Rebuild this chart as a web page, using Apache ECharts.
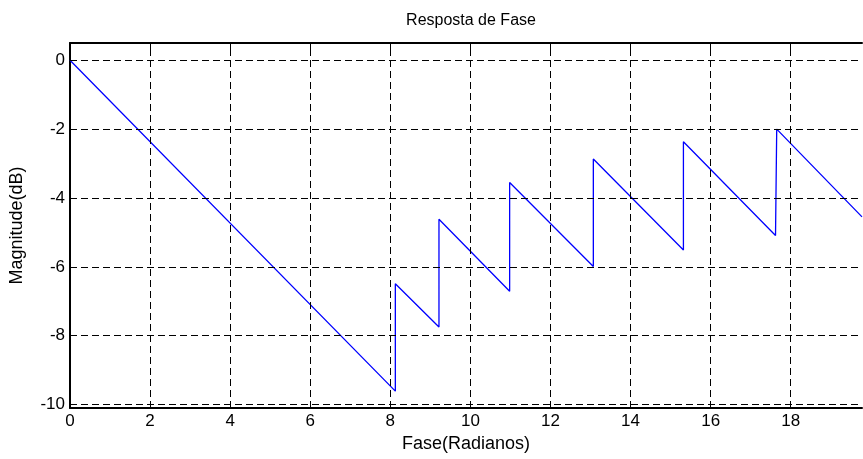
<!DOCTYPE html>
<html>
<head>
<meta charset="utf-8">
<script src="https://cdn.jsdelivr.net/npm/echarts@6/dist/echarts.min.js"></script>
<style>html,body{margin:0;padding:0;background:#fff}#c{width:863px;height:459px}</style>
</head>
<body>
<div id="c"></div>
<script>
var phaseX = [0, 8.125, 8.125, 9.215, 9.215, 10.98, 10.98, 13.07, 13.07, 15.32, 15.32, 17.62, 17.65, 19.78];
var phaseY = [0, -9.61, -6.49, -7.75, -4.62, -6.71, -3.55, -5.99, -2.87, -5.51, -2.37, -5.09, -2.0, -4.55];
var xTicks = [0, 2, 4, 6, 8, 10, 12, 14, 16, 18];
var yTicks = [0, -2, -4, -6, -8, -10];
var titleText = 'Resposta de Fase';
var xName = 'Fase(Radianos)';
var yName = 'Magnitude(dB)';

var FONT = '"Liberation Sans", Arial, sans-serif';
var data = phaseX.map(function (x, i) { return [x, phaseY[i]]; });
var gridLines = [];
xTicks.forEach(function (v) { if (v !== 0) gridLines.push({ xAxis: v }); });
yTicks.forEach(function (v) { gridLines.push({ yAxis: v }); });

var chart = echarts.init(document.getElementById('c'), null, { renderer: 'canvas' });
var axisLine = { show: true, onZero: false, lineStyle: { color: '#000', width: 2 } };
chart.setOption({
  animation: false,
  backgroundColor: '#fff',
  title: {
    text: titleText, left: 466, top: 8, textAlign: 'center',
    textStyle: { fontFamily: FONT, fontSize: 16, fontWeight: 'normal', color: '#000' }
  },
  grid: { left: 70, right: 1, top: 43, bottom: 51 },
  xAxis: [{
    type: 'value', min: 0, max: 19.78, position: 'bottom',
    axisLine: axisLine,
    axisTick: { show: true, inside: true, length: 6, customValues: xTicks, lineStyle: { color: '#000' } },
    axisLabel: { customValues: xTicks, fontFamily: FONT, fontSize: 17, color: '#000', margin: 5 },
    splitLine: { show: false },
    name: xName, nameLocation: 'middle', nameGap: 24,
    nameTextStyle: { fontFamily: FONT, fontSize: 18, color: '#000', verticalAlign: 'top' }
  }, {
    type: 'value', min: 0, max: 19.78, position: 'top',
    axisLine: axisLine,
    axisTick: { show: true, inside: true, length: 6, customValues: xTicks, lineStyle: { color: '#000' } },
    axisLabel: { show: false },
    splitLine: { show: false }
  }],
  yAxis: {
    type: 'value', min: -10.1, max: 0.5,
    axisLine: axisLine,
    axisTick: { show: true, inside: true, length: 6, customValues: yTicks, lineStyle: { color: '#000' } },
    axisLabel: { customValues: yTicks, fontFamily: FONT, fontSize: 17, color: '#000', margin: 5 },
    splitLine: { show: false },
    name: yName, nameLocation: 'middle', nameGap: 44,
    nameTextStyle: { fontFamily: FONT, fontSize: 18, color: '#000' }
  },
  series: [{
    type: 'line', data: data, showSymbol: false, symbol: 'none',
    lineStyle: { color: '#0000ff', width: 1.3 },
    markLine: {
      silent: true, symbol: 'none', animation: false,
      label: { show: false },
      lineStyle: { color: '#000', width: 1, type: [7, 4] },
      data: gridLines
    },
    z: 3
  }]
});
</script>
</body>
</html>
